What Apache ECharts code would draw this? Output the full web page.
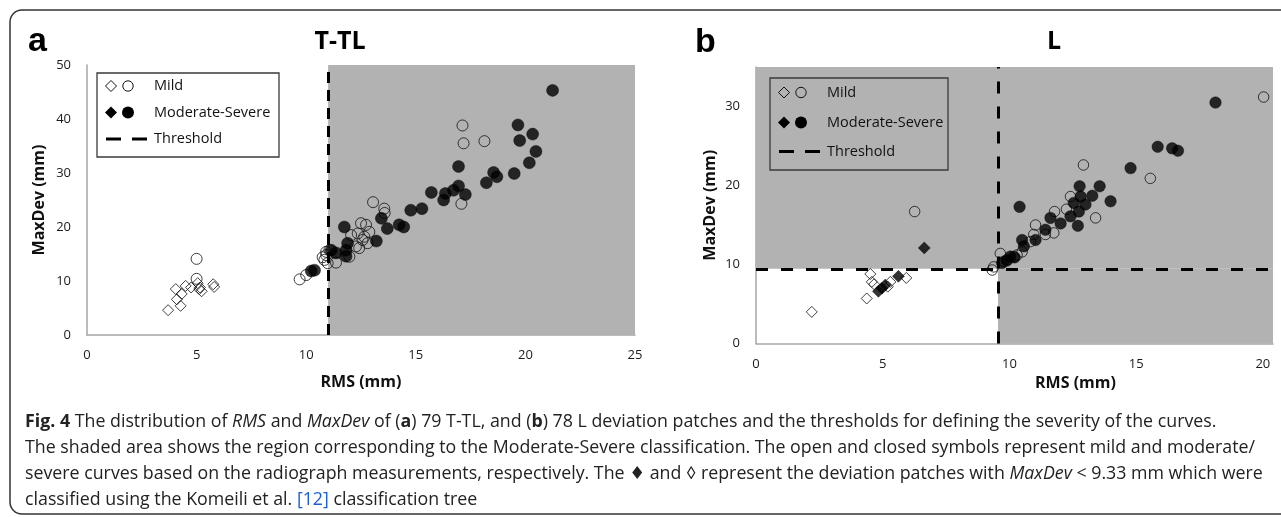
<!DOCTYPE html>
<html lang="en">
<head>
    <meta charset="UTF-8">
    <title>Fig. 4</title>
    <script src="https://cdn.jsdelivr.net/npm/echarts@6/dist/echarts.min.js"></script>
    <style>
        html, body { margin: 0; padding: 0; background: #fff; }
        #main { width: 1281px; height: 517px; }
    </style>
</head>
<body>
    <div id="main"></div>
    <script>
        // panel a (T-TL): [RMS, MaxDev]
        var aMildDiamonds = [[3.7, 4.6], [4.27, 5.4], [4.1, 6.6], [4.32, 7.6], [4.05, 8.5], [4.5, 9.1], [4.75, 8.8],
            [5.05, 9.6], [5.15, 8.8], [5.23, 8.1], [5.12, 8.5], [5.76, 9.4], [5.8, 8.9]];
        var aMildCircles = [[5.0, 14.1], [5.0, 10.4], [9.7, 10.3], [10.0, 11.1], [10.75, 14.4], [10.83, 13.9], [10.91, 14.8],
            [10.98, 13.3], [11.36, 13.4], [11.06, 15.7], [10.91, 15.4], [11.97, 14.5], [12.42, 16.1], [12.27, 16.4],
            [12.05, 18.5], [12.35, 18.8], [12.5, 20.7], [12.73, 20.4], [12.88, 19.1], [12.57, 17.6], [12.8, 17.0],
            [12.65, 18.2], [13.05, 24.6], [13.56, 23.4], [13.58, 22.6], [17.13, 38.8], [17.18, 35.5], [18.13, 35.9],
            [17.08, 24.3]];
        var aSevereCircles = [[10.23, 11.85], [10.38, 12.0], [11.14, 15.7], [11.36, 15.2], [11.82, 15.7], [11.82, 14.6],
            [11.74, 20.0], [11.89, 17.0], [13.2, 17.4], [13.43, 21.6], [13.7, 19.7], [14.24, 20.4], [14.45, 20.0],
            [14.77, 23.1], [15.28, 23.4], [15.71, 26.4], [16.27, 25.0], [16.35, 26.2], [16.72, 26.8], [16.95, 27.6],
            [17.26, 26.0], [16.95, 31.2], [18.22, 28.2], [18.55, 30.1], [18.7, 29.3], [19.49, 29.9], [19.66, 38.9],
            [19.74, 36.0], [20.18, 31.9], [20.33, 37.2], [20.48, 34.0], [21.24, 45.3]];
        var aThresholdRms = 11;

        // panel b (L)
        var bMildDiamonds = [[2.2, 4.0], [4.37, 5.7], [4.51, 8.8], [4.57, 7.8], [4.66, 7.5], [5.2, 7.2], [5.3, 7.8], [5.93, 8.3]];
        var bSevereDiamonds = [[4.83, 6.6], [4.97, 7.0], [5.1, 7.4], [5.62, 8.5], [6.64, 12.1]];
        var bMildCircles = [[6.26, 16.7], [9.32, 9.3], [9.38, 9.7], [9.64, 11.4], [9.77, 10.4], [9.9, 10.6], [10.17, 11.0],
            [10.3, 11.2], [10.5, 11.6], [10.83, 12.9], [10.96, 13.8], [11.03, 15.0], [11.42, 13.8], [11.75, 14.0],
            [11.78, 16.7], [12.25, 17.0], [12.41, 18.6], [12.92, 22.6], [13.4, 15.9], [15.56, 20.9], [20.03, 31.2]];
        var bSevereCircles = [[9.71, 10.2], [9.9, 10.5], [10.04, 11.0], [10.2, 10.9], [10.5, 13.1], [10.57, 12.3],
            [11.03, 13.1], [11.42, 14.4], [11.62, 15.9], [12.02, 15.2], [12.41, 16.1], [12.54, 17.8], [12.7, 14.9],
            [12.74, 16.7], [12.77, 19.9], [12.81, 18.6], [13.0, 17.6], [13.27, 18.7], [13.56, 19.9], [13.99, 18.0],
            [10.4, 17.3], [14.78, 22.2], [15.85, 24.9], [16.42, 24.7], [16.65, 24.4], [18.13, 30.5]];
        var bThresholdRms = 9.55;
        var bThresholdMax = 9.45;

        var legendLabels = ['Mild', 'Moderate-Severe', 'Threshold'];
        var captionLines = [
            '{b|Fig. 4} The distribution of {i|RMS} and {i|MaxDev} of ({b|a}) 79 T-TL, and ({b|b}) 78 L deviation patches and the thresholds for defining the severity of the curves.',
            'The shaded area shows the region corresponding to the Moderate-Severe classification. The open and closed symbols represent mild and moderate/',
            'severe curves based on the radiograph measurements, respectively. The \u2666 and \u25CA represent the deviation patches with {i|MaxDev} < 9.33 mm which were',
            'classified using the Komeili et al. {l|[12]} classification tree'
        ];

        var FONT = '"Open Sans", "DejaVu Sans", sans-serif';
        var GRAY = '#b2b2b2';
        var CAP = 17.8;
        var myChart = echarts.init(document.getElementById('main'));

        function axisBase() {
            return {
                axisLine: { lineStyle: { color: '#a6a6a6', width: 1.5 } },
                axisTick: { show: false },
                splitLine: { show: false },
                axisLabel: { color: '#1a1a1a', fontSize: 13, fontFamily: FONT },
                nameTextStyle: { color: '#111', fontSize: 16, fontWeight: 'bold', fontFamily: FONT }
            };
        }
        function xAx(idx, max, gap, extra) {
            var o = axisBase();
            o.gridIndex = idx; o.type = 'value'; o.min = 0; o.max = max; o.interval = 5;
            o.name = 'RMS (mm)'; o.nameLocation = 'middle'; o.nameGap = gap;
            o.axisLabel.margin = 14;
            if (extra) Object.assign(o.nameTextStyle, extra);
            return o;
        }
        function yAx(idx, max, gap) {
            var o = axisBase();
            o.gridIndex = idx; o.type = 'value'; o.min = 0; o.max = max; o.interval = 10;
            o.name = 'MaxDev (mm)'; o.nameLocation = 'middle'; o.nameGap = gap;
            o.axisLabel.margin = 16;
            return o;
        }
        function pts(idx, data, symbol, filled, size) {
            return {
                type: 'scatter', xAxisIndex: idx, yAxisIndex: idx, z: 3,
                symbol: symbol, symbolSize: size, data: data, silent: true,
                itemStyle: filled ? { color: '#000', borderColor: '#000', borderWidth: 0.5 }
                    : { color: 'rgba(0,0,0,0)', borderColor: '#111', borderWidth: 1 }
            };
        }
        function dashes(arr) {
            return { symbol: ['none', 'none'], silent: true, label: { show: false },
                lineStyle: { color: '#000', width: 3, type: arr, opacity: 1 } };
        }

        // legend box + entries
        function legendGfx(x, y, w, h, rows, fill) {
            var g = [{ type: 'rect', shape: { x: x, y: y, width: w, height: h },
                style: { fill: fill, stroke: '#3a3a3a', lineWidth: 1.3 }, z: 10 }];
            var sx = x + 14;
            g.push({ type: 'polygon', shape: { points: [[sx, rows[0] - 5.5], [sx + 5.5, rows[0]], [sx, rows[0] + 5.5], [sx - 5.5, rows[0]]] },
                style: { fill: 'none', stroke: '#111', lineWidth: 1 }, z: 11 });
            g.push({ type: 'circle', shape: { cx: sx + 17, cy: rows[0], r: 5.2 }, style: { fill: 'none', stroke: '#111', lineWidth: 1 }, z: 11 });
            g.push({ type: 'polygon', shape: { points: [[sx, rows[1] - 6], [sx + 6, rows[1]], [sx, rows[1] + 6], [sx - 6, rows[1]]] },
                style: { fill: '#000' }, z: 11 });
            g.push({ type: 'circle', shape: { cx: sx + 17, cy: rows[1], r: 6 }, style: { fill: '#000' }, z: 11 });
            g.push({ type: 'line', shape: { x1: x + 9, y1: rows[2], x2: x + 24, y2: rows[2] }, style: { stroke: '#000', lineWidth: 3 }, z: 11 });
            g.push({ type: 'line', shape: { x1: x + 35, y1: rows[2], x2: x + 50, y2: rows[2] }, style: { stroke: '#000', lineWidth: 3 }, z: 11 });
            for (var i = 0; i < 3; i++) {
                g.push({ type: 'text', x: x + 57, y: rows[i], z: 11,
                    style: { text: legendLabels[i], fill: '#111', fontSize: 14.5, fontFamily: FONT, textVerticalAlign: 'middle' } });
            }
            return g;
        }

        var rich = {
            b: { fontWeight: 'bold', fontSize: CAP, fontFamily: FONT, fill: '#222' },
            i: { fontStyle: 'italic', fontSize: CAP, fontFamily: FONT, fill: '#222' },
            l: { fontSize: CAP, fontFamily: FONT, fill: '#1a5fd6' }
        };
        var caption = captionLines.map(function (t, k) {
            return { type: 'text', x: 25, y: [422, 448, 474, 500][k], z: 5,
                style: { text: t, rich: rich, fill: '#222', fontSize: CAP, fontFamily: FONT, textVerticalAlign: 'middle' } };
        });

        var graphics = [
            { type: 'rect', shape: { x: 10, y: 10, width: 1300, height: 504, r: 12 }, style: { fill: 'none', stroke: '#333', lineWidth: 1.5 }, z: 1 },
            { type: 'text', x: 28, y: 42, style: { text: 'a', fontSize: 34, fontWeight: 'bold', fontFamily: 'Liberation Sans, Arial, sans-serif', fill: '#000', textVerticalAlign: 'middle' } },
            { type: 'text', x: 695, y: 43, style: { text: 'b', fontSize: 34, fontWeight: 'bold', fontFamily: 'Liberation Sans, Arial, sans-serif', fill: '#000', textVerticalAlign: 'middle' } },
            { type: 'text', x: 340, y: 42, style: { text: 'T-TL', fontSize: 25, fontWeight: 'bold', fontFamily: FONT, fill: '#000', textAlign: 'center', textVerticalAlign: 'middle' } },
            { type: 'text', x: 1054, y: 42, style: { text: 'L', fontSize: 25, fontWeight: 'bold', fontFamily: FONT, fill: '#000', textAlign: 'center', textVerticalAlign: 'middle' } }
        ].concat(legendGfx(97, 73, 182, 84, [86, 112.5, 139], '#fff'))
         .concat(legendGfx(770, 78, 178, 92, [92.5, 122.5, 151.5], 'none'))
         .concat(caption);

        var option = {
            animation: false,
            grid: [
                { left: 87, top: 65, width: 548, height: 270 },
                { left: 756, top: 67, width: 517, height: 276.5 }
            ],
            xAxis: [xAx(0, 25, 39), xAx(1, 20.4, 32, { padding: [0, 0, 0, 122] })],
            yAxis: [yAx(0, 50, 40), yAx(1, 35, 38)],
            graphic: graphics,
            series: [
                { // shading + threshold, panel a
                    type: 'scatter', xAxisIndex: 0, yAxisIndex: 0, data: [], z: 1,
                    markArea: { silent: true, itemStyle: { color: GRAY, opacity: 1 },
                        data: [[{ xAxis: aThresholdRms, yAxis: 0 }, { xAxis: 25, yAxis: 50 }]] },
                    markLine: Object.assign(dashes([11, 7]), { data: [{ xAxis: aThresholdRms }] })
                },
                pts(0, aMildDiamonds, 'diamond', false, 11),
                pts(0, aMildCircles, 'circle', false, 11),
                pts(0, aSevereCircles, 'circle', true, 12),
                { // shading + thresholds, panel b
                    type: 'scatter', xAxisIndex: 1, yAxisIndex: 1, data: [], z: 1,
                    markArea: { silent: true, itemStyle: { color: GRAY, opacity: 1 },
                        data: [[{ xAxis: 0, yAxis: bThresholdMax }, { xAxis: 20.4, yAxis: 35 }],
                               [{ xAxis: bThresholdRms, yAxis: 0 }, { xAxis: 20.4, yAxis: bThresholdMax }]] },
                    markLine: Object.assign(dashes([12, 13]), { data: [{ xAxis: bThresholdRms }, { yAxis: bThresholdMax }] })
                },
                pts(1, bMildDiamonds, 'diamond', false, 11),
                pts(1, bSevereDiamonds, 'diamond', true, 12),
                pts(1, bMildCircles, 'circle', false, 10.5),
                pts(1, bSevereCircles, 'circle', true, 11.5)
            ]
        };
        option.yAxis[1].axisLabel.showMaxLabel = false;
        option.xAxis[1].axisLabel.showMaxLabel = false;

        myChart.setOption(option);
    </script>
</body>
</html>
